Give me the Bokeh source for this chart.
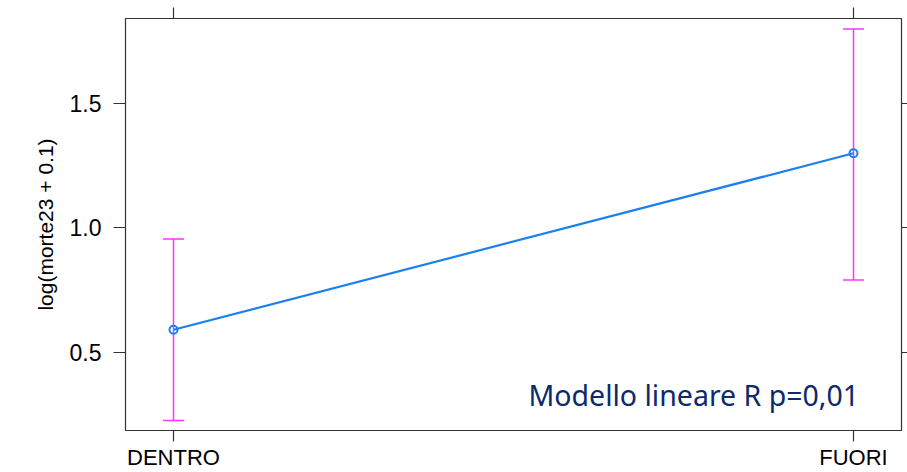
from bokeh.plotting import figure
from bokeh.models import (ColumnDataSource, FixedTicker, LinearAxis, Label,
                          Range1d, Whisker)
from bokeh.embed import file_html
from bokeh.resources import INLINE

# Group means of log(morte23 + 0.1) with their confidence limits
groups = ["DENTRO", "FUORI"]
means = [0.59, 1.30]
lower = [0.225, 0.79]
upper = [0.955, 1.80]
y_ticks = [0.5, 1.0, 1.5]
y_tick_labels = ["0.5", "1.0", "1.5"]

xpos = [i + 1 for i in range(len(groups))]
src = ColumnDataSource(data=dict(x=xpos, mean=means, lower=lower, upper=upper))

p = figure(width=907, height=472, output_backend="svg", toolbar_location=None,
           x_range=Range1d(0.9294, 2.0706), y_range=Range1d(0.185, 1.842),
           x_axis_location=None, y_axis_location=None,
           min_border_left=125, min_border_right=6,
           min_border_top=18, min_border_bottom=41)
p.background_fill_color = "white"
p.border_fill_color = "white"
p.grid.visible = False
p.outline_line_color = "#333333"
p.outline_line_width = 1.2

tick_font = "Liberation Sans"

def style_axis(ax, tick_out, size=None):
    ax.axis_line_color = None
    ax.major_tick_line_color = "#333333"
    ax.major_tick_line_width = 1.2
    ax.major_tick_in = 0
    ax.major_tick_out = tick_out
    ax.minor_tick_line_color = None
    ax.major_label_text_font = tick_font
    ax.major_label_text_color = "black"
    if size is not None:
        ax.major_label_text_font_size = size
    else:
        # tick marks only, no labels
        ax.major_label_text_font_size = "1px"
        ax.major_label_standoff = 0

# left axis with labels
yl = LinearAxis(ticker=FixedTicker(ticks=y_ticks),
                major_label_overrides=dict(zip(y_ticks, y_tick_labels)))
style_axis(yl, 12, "23px")
yl.major_label_standoff = 12
yl.axis_label = "log(morte23 + 0.1)"
yl.axis_label_text_font = tick_font
yl.axis_label_text_font_size = "21px"
yl.axis_label_text_font_style = "normal"
yl.axis_label_text_color = "black"
yl.axis_label_standoff = 10
p.add_layout(yl, "left")

# right axis: ticks only
yr = LinearAxis(ticker=FixedTicker(ticks=y_ticks),
                major_label_overrides={t: "" for t in y_ticks})
style_axis(yr, 6)
p.add_layout(yr, "right")

# bottom axis with group names
xb = LinearAxis(ticker=FixedTicker(ticks=xpos),
                major_label_overrides=dict(zip(xpos, groups)))
style_axis(xb, 11, "22px")
xb.major_label_standoff = 3
p.add_layout(xb, "below")

# top axis: ticks only
xt = LinearAxis(ticker=FixedTicker(ticks=xpos),
                major_label_overrides={x: "" for x in xpos})
style_axis(xt, 11)
p.add_layout(xt, "above")

# confidence intervals
w = Whisker(source=src, base="x", lower="lower", upper="upper",
            line_color="#ff33ff", line_width=1.5)
for head in (w.upper_head, w.lower_head):
    head.size = 21
    head.line_color = "#ff33ff"
    head.line_width = 1.5
p.add_layout(w)

# means joined by a line
p.line("x", "mean", source=src, line_color="#1a80f0", line_width=2.2)
p.scatter("x", "mean", source=src, size=8, marker="circle",
          fill_color=None, line_color="#1a80f0", line_width=2)

p.add_layout(Label(x=1.522, y=0.328, text="Modello lineare R p=0,01",
                   text_font="Noto Sans", text_font_size="28.5px",
                   text_color="#0d2a6b", text_baseline="alphabetic",
                   text_align="left"))

open("out.html", "w").write(file_html(p, INLINE))
